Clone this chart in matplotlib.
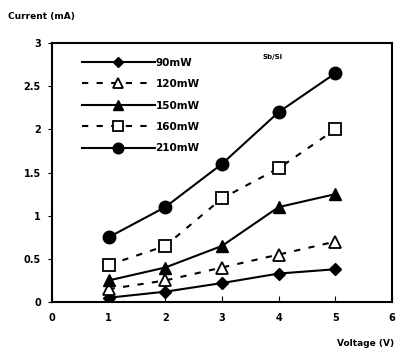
import matplotlib.pyplot as plt

voltage = [1, 2, 3, 4, 5]
i_90 = [0.05, 0.12, 0.22, 0.33, 0.38]
i_120 = [0.15, 0.25, 0.40, 0.55, 0.70]
i_150 = [0.25, 0.40, 0.65, 1.10, 1.25]
i_160 = [0.43, 0.65, 1.20, 1.55, 2.00]
i_210 = [0.75, 1.10, 1.60, 2.20, 2.65]

plt.rcParams['font.family'] = 'DejaVu Sans'
plt.rcParams['font.weight'] = 'bold'

fig = plt.figure(figsize=(3.96, 3.5), dpi=100)
ax = fig.add_axes([0.131, 0.137, 0.859, 0.740])

ax.plot(voltage, i_90, '-', color='black', lw=1.5, marker='D', ms=6, label='90mW')
ax.plot(voltage, i_120, '--', color='black', lw=1.5, marker='^', ms=8,
        mfc='white', mew=1.3, dashes=(3, 4), label='120mW')
ax.plot(voltage, i_150, '-', color='black', lw=1.5, marker='^', ms=8, label='150mW')
ax.plot(voltage, i_160, '--', color='black', lw=1.5, marker='s', ms=9,
        mfc='white', mew=1.3, dashes=(3, 4), label='160mW')
ax.plot(voltage, i_210, '-', color='black', lw=1.5, marker='o', ms=9, label='210mW')

ax.set_xlim(0, 6)
ax.set_ylim(0, 3)
ax.set_xticks(range(0, 7))
ax.set_yticks([0, 0.5, 1, 1.5, 2, 2.5, 3])
ax.set_yticklabels(['0', '0.5', '1', '1.5', '2', '2.5', '3'])
ax.tick_params(axis='x', direction='in', length=4, labelsize=7, pad=8)
ax.tick_params(axis='y', direction='out', length=3, labelsize=7, pad=5)
for s in ax.spines.values():
    s.set_linewidth(1.5)

ax.legend(loc='upper left', frameon=False, fontsize=7.5, handlelength=7,
          labelspacing=1.1, handletextpad=0.1, markerscale=0.85,
          bbox_to_anchor=(0.06, 0.98))

ax.text(0.65, 0.94, 'Sb/Si', transform=ax.transAxes, fontsize=5, ha='center')
fig.text(0.02, 0.945, 'Current (mA)', fontsize=6.5, ha='left')
fig.text(0.995, 0.01, 'Voltage (V)', fontsize=6.5, ha='right')

fig.savefig('out.png', dpi=100)
